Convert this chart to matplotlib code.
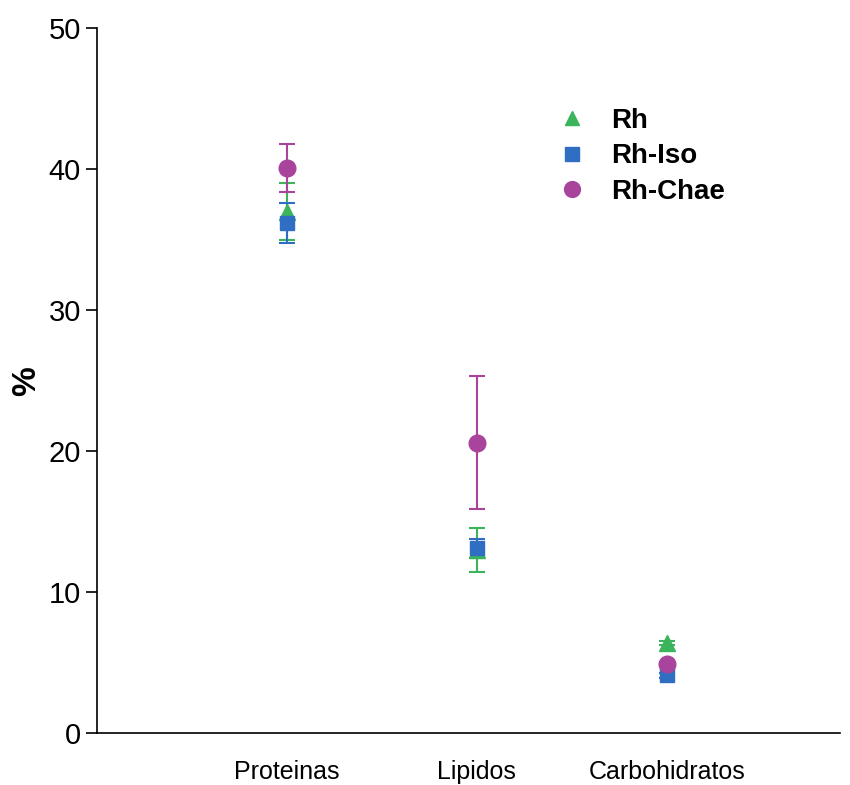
import matplotlib.pyplot as plt
from matplotlib.lines import Line2D

categories = ['Proteinas', 'Lipidos', 'Carbohidratos']
series = ['Rh', 'Rh-Iso', 'Rh-Chae']
means = {
    'Rh': [37.0, 13.0, 6.4],
    'Rh-Iso': [36.2, 13.1, 4.1],
    'Rh-Chae': [40.1, 20.6, 4.9],
}
errors = {
    'Rh': [2.0, 1.55, 0.15],
    'Rh-Iso': [1.4, 0.7, 0.15],
    'Rh-Chae': [1.7, 4.7, 0.15],
}
colors = {'Rh': '#3bb45c', 'Rh-Iso': '#2f6ec2', 'Rh-Chae': '#a8449b'}
markers = {'Rh': '^', 'Rh-Iso': 's', 'Rh-Chae': 'o'}
sizes = {'Rh': 11, 'Rh-Iso': 10, 'Rh-Chae': 12}

plt.rcParams['font.family'] = ['Liberation Sans', 'DejaVu Sans']

fig = plt.figure(figsize=(8.5, 7.85), dpi=100)
ax = fig.add_axes([0.114, 0.066, 0.874, 0.898])

x = [1, 2, 3]
for name in series:
    ax.errorbar(x, means[name], yerr=errors[name], fmt=markers[name],
                color=colors[name], ms=sizes[name], capsize=6, elinewidth=1.5,
                capthick=1.5, linestyle='none')

ax.set_xlim(0, 3.91)
ax.set_ylim(0, 50)
ax.set_yticks([0, 10, 20, 30, 40, 50])
ax.set_xticks(x)
ax.set_xticklabels(categories, fontsize=18)
ax.tick_params(axis='y', labelsize=21, length=8, width=1.2, direction='out')
ax.tick_params(axis='x', length=0, pad=19)
ax.set_ylabel('%', fontsize=24, fontweight='bold')
ax.yaxis.set_label_coords(-0.074, 0.5)

for side in ['top', 'right']:
    ax.spines[side].set_visible(False)
for side in ['left', 'bottom']:
    ax.spines[side].set_linewidth(1.2)

handles = [Line2D([], [], marker=markers[n], color=colors[n], linestyle='none',
                  ms=sizes[n] * 0.95) for n in series]
leg = ax.legend(handles, series, loc='upper left', bbox_to_anchor=(0.587, 0.923),
                frameon=False, fontsize=20, handletextpad=0.9,
                labelspacing=0.35, handlelength=1.0)
for t in leg.get_texts():
    t.set_fontweight('bold')

fig.savefig('out.png', dpi=100)
